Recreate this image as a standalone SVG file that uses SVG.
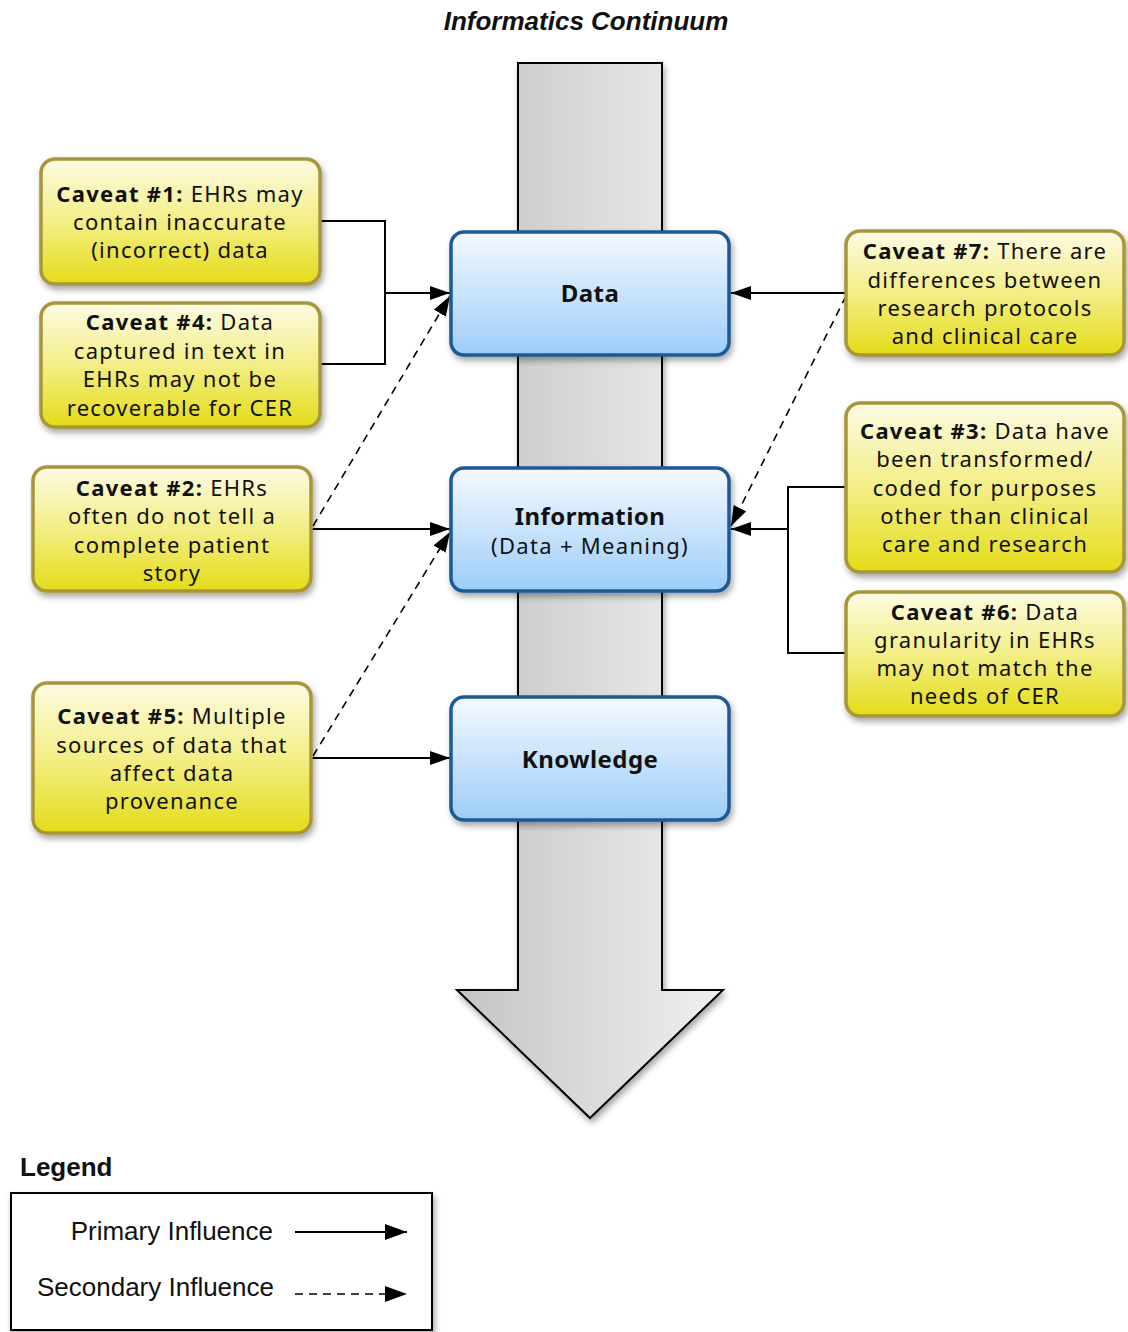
<svg xmlns="http://www.w3.org/2000/svg" width="1128" height="1332" viewBox="0 0 1128 1332">
<defs>
<linearGradient id="gShaft" x1="0" y1="0" x2="1" y2="0">
<stop offset="0" stop-color="#c4c4c4"/><stop offset="1" stop-color="#f0f0f0"/>
</linearGradient>
<linearGradient id="gBlue" x1="0" y1="0" x2="0" y2="1">
<stop offset="0" stop-color="#f6f9fe"/><stop offset="0.85" stop-color="#aad4fa"/><stop offset="1" stop-color="#9ccdf8"/>
</linearGradient>
<linearGradient id="gYellow" x1="0" y1="0" x2="0" y2="1">
<stop offset="0" stop-color="#fdfbe4"/><stop offset="0.5" stop-color="#f3ee86"/><stop offset="1" stop-color="#e4dc18"/>
</linearGradient>
<filter id="sh" x="-10%" y="-10%" width="125%" height="125%">
<feDropShadow dx="2" dy="4" stdDeviation="3" flood-color="#000" flood-opacity="0.35"/>
</filter>
<marker id="ah" viewBox="0 0 20 14" refX="20" refY="7" markerWidth="20" markerHeight="14" markerUnits="userSpaceOnUse" orient="auto">
<path d="M0,0 L20,7 L0,14 Z" fill="#000"/>
</marker>
<marker id="ahL" viewBox="0 0 22 16" refX="22" refY="8" markerWidth="22" markerHeight="16" markerUnits="userSpaceOnUse" orient="auto">
<path d="M0,0 L22,8 L0,16 Z" fill="#000"/>
</marker>
<style>
.cav{fill:url(#gYellow);stroke:#a8963a;stroke-width:3.5}
.blue{fill:url(#gBlue);stroke:#1c5a96;stroke-width:3.5}
.ct{font-family:"Noto Sans","DejaVu Sans",sans-serif;font-size:22px;letter-spacing:1.3px;fill:#111;text-anchor:middle}
.b{font-weight:bold}
.nt{font-family:"Noto Sans","DejaVu Sans",sans-serif;font-size:24px;letter-spacing:0.4px;font-weight:bold;fill:#111;text-anchor:middle}
.ln{fill:none;stroke:#000;stroke-width:2}
.dash{fill:none;stroke:#000;stroke-width:1.6;stroke-dasharray:8,6}
.lg{font-family:"Liberation Sans",Arial,sans-serif;font-size:26px;fill:#111}
</style>
</defs>
<rect width="1128" height="1332" fill="#fff"/>
<text x="586" y="30" font-family="Liberation Sans,Arial,sans-serif" font-size="26" font-weight="bold" font-style="italic" text-anchor="middle" fill="#111">Informatics Continuum</text>

<g id="bigArrow">
<path d="M518,63 L662,63 L662,990 L723,990 L590,1118 L457,990 L518,990 Z" fill="url(#gShaft)" stroke="#000" stroke-width="2" filter="url(#sh)"/>
</g>

<g id="connectors">
<path class="ln" d="M320,221 H385 V364 H320"/>
<path class="ln" d="M385,293 H450" marker-end="url(#ah)"/>
<path class="dash" d="M313,526 L450,296" marker-end="url(#ah)"/>
<path class="ln" d="M311,529 H450" marker-end="url(#ah)"/>
<path class="dash" d="M313,756 L450,532" marker-end="url(#ah)"/>
<path class="ln" d="M311,758 H450" marker-end="url(#ah)"/>
<path class="ln" d="M846,293 H731" marker-end="url(#ah)"/>
<path class="dash" d="M846,296 L731,526" marker-end="url(#ah)"/>
<path class="ln" d="M846,487 H788 V653 H846"/>
<path class="ln" d="M788,529 H731" marker-end="url(#ah)"/>
</g>

<g id="data">
<rect class="blue" x="451" y="232" width="278" height="123" rx="13" filter="url(#sh)"/>
<text class="nt" x="590" y="302">Data</text>
</g>
<g id="information">
<rect class="blue" x="451" y="468" width="278" height="123" rx="13" filter="url(#sh)"/>
<text class="nt" x="590" y="525">Information</text>
<text class="ct" x="590" y="554">(Data + Meaning)</text>
</g>
<g id="knowledge">
<rect class="blue" x="451" y="697" width="278" height="123" rx="13" filter="url(#sh)"/>
<text class="nt" x="590" y="768">Knowledge</text>
</g>

<g id="caveat1">
<rect class="cav" x="41" y="159" width="279" height="125" rx="14" filter="url(#sh)"/>
<text class="ct" x="180" y="202"><tspan class="b">Caveat #1:</tspan> EHRs may</text>
<text class="ct" x="180" y="230">contain inaccurate</text>
<text class="ct" x="180" y="258">(incorrect) data</text>
</g>
<g id="caveat4">
<rect class="cav" x="41" y="303" width="279" height="124" rx="14" filter="url(#sh)"/>
<text class="ct" x="180" y="330"><tspan class="b">Caveat #4:</tspan> Data</text>
<text class="ct" x="180" y="359">captured in text in</text>
<text class="ct" x="180" y="387">EHRs may not be</text>
<text class="ct" x="180" y="416">recoverable for CER</text>
</g>
<g id="caveat2">
<rect class="cav" x="33" y="467" width="278" height="124" rx="14" filter="url(#sh)"/>
<text class="ct" x="172" y="496"><tspan class="b">Caveat #2:</tspan> EHRs</text>
<text class="ct" x="172" y="524">often do not tell a</text>
<text class="ct" x="172" y="553">complete patient</text>
<text class="ct" x="172" y="581">story</text>
</g>
<g id="caveat5">
<rect class="cav" x="33" y="683" width="278" height="150" rx="14" filter="url(#sh)"/>
<text class="ct" x="172" y="724"><tspan class="b">Caveat #5:</tspan> Multiple</text>
<text class="ct" x="172" y="753">sources of data that</text>
<text class="ct" x="172" y="781">affect data</text>
<text class="ct" x="172" y="809">provenance</text>
</g>
<g id="caveat7">
<rect class="cav" x="846" y="231" width="278" height="124" rx="14" filter="url(#sh)"/>
<text class="ct" x="985" y="259"><tspan class="b">Caveat #7:</tspan> There are</text>
<text class="ct" x="985" y="288">differences between</text>
<text class="ct" x="985" y="316">research protocols</text>
<text class="ct" x="985" y="344">and clinical care</text>
</g>
<g id="caveat3">
<rect class="cav" x="846" y="403" width="278" height="169" rx="14" filter="url(#sh)"/>
<text class="ct" x="985" y="439"><tspan class="b">Caveat #3:</tspan> Data have</text>
<text class="ct" x="985" y="467">been transformed/</text>
<text class="ct" x="985" y="496">coded for purposes</text>
<text class="ct" x="985" y="524">other than clinical</text>
<text class="ct" x="985" y="552">care and research</text>
</g>
<g id="caveat6">
<rect class="cav" x="846" y="592" width="278" height="124" rx="14" filter="url(#sh)"/>
<text class="ct" x="985" y="620"><tspan class="b">Caveat #6:</tspan> Data</text>
<text class="ct" x="985" y="648">granularity in EHRs</text>
<text class="ct" x="985" y="676">may not match the</text>
<text class="ct" x="985" y="704">needs of CER</text>
</g>

<g id="legend">
<text x="20" y="1176" font-family="Liberation Sans,Arial,sans-serif" font-size="26" font-weight="bold" fill="#111">Legend</text>
<rect x="11" y="1193" width="421" height="137" fill="#fff" stroke="#000" stroke-width="2" filter="url(#sh)"/>
<text class="lg" x="273" y="1240" text-anchor="end">Primary Influence</text>
<text class="lg" x="274" y="1296" text-anchor="end">Secondary Influence</text>
<path class="ln" d="M295,1232 H407" marker-end="url(#ahL)"/>
<path class="dash" d="M295,1294 H407" stroke-dasharray="10,6" marker-end="url(#ahL)"/>
</g>
</svg>
